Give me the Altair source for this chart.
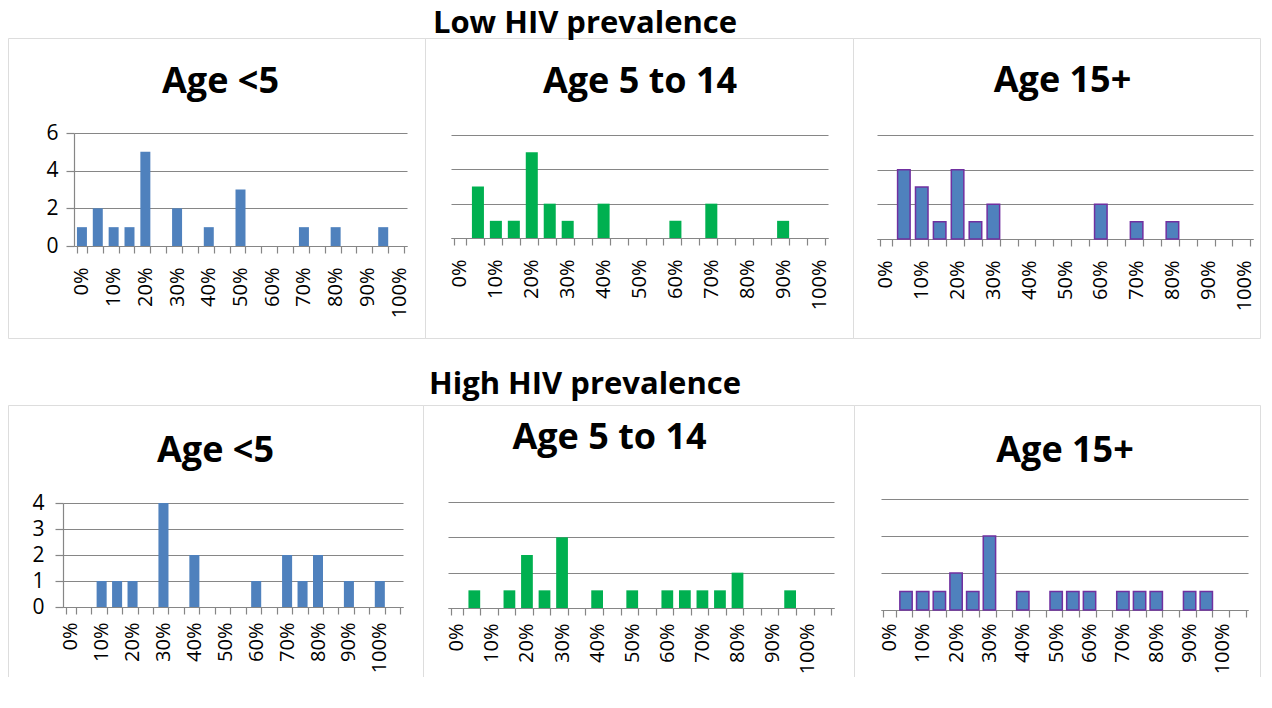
import altair as alt
import pandas as pd

# ---- data ----
pct_21 = [0, 5, 10, 15, 20, 25, 30, 35, 40, 45, 50, 55, 60, 65, 70, 75, 80, 85, 90, 95, 100]
pct_22 = [0, 5, 10, 15, 20, 25, 30, 35, 40, 45, 50, 55, 60, 65, 70, 75, 80, 85, 90, 95, 100, 105]

low_u5 = [1, 2, 1, 1, 5, 0, 2, 0, 1, 0, 3, 0, 0, 0, 1, 0, 1, 0, 0, 1, 0]
low_5_14 = [0, 3, 1, 1, 5, 2, 1, 0, 2, 0, 0, 0, 1, 0, 2, 0, 0, 0, 1, 0, 0]
low_15p = [0, 4, 3, 1, 4, 1, 2, 0, 0, 0, 0, 0, 2, 0, 1, 0, 1, 0, 0, 0, 0]
high_u5 = [0, 0, 1, 1, 1, 0, 4, 0, 2, 0, 0, 0, 1, 0, 2, 1, 2, 0, 1, 0, 1, 0]
high_5_14 = [0, 1, 0, 1, 3, 1, 4, 0, 1, 0, 1, 0, 1, 1, 1, 1, 2, 0, 0, 1, 0, 0]
high_15p = [0, 1, 1, 1, 2, 1, 4, 0, 1, 0, 1, 1, 1, 0, 1, 1, 1, 0, 1, 1, 0, 0]

row_titles = ["Low HIV prevalence", "High HIV prevalence"]
panel_titles = ["Age <5", "Age 5 to 14", "Age 15+"]
y_ticks_6 = [0, 2, 4, 6]
y_ticks_4 = [0, 1, 2, 3, 4]

BLUE = "#4F81BD"
GREEN = "#00B050"
PURPLE = "#7030A0"
GRAY = "#868686"
FONT = "Open Sans"


def panel(cats, counts, title, W, H, xr, yr, ymax, yticks, color, pad,
          stroke=None, show_y=False, title_off=-91, title_dx=0, ylab_pad=8,
          xlab_pad=14):
    df = pd.DataFrame({"pct": cats, "count": counts})
    x0 = xr[0]
    y0 = yr[0]
    mark_kw = dict(color=color)
    if stroke:
        mark_kw.update(stroke=stroke, strokeWidth=1.5)
    xaxis = alt.Axis(
        title=None, labelAngle=270,
        labelExpr="datum.value % 10 == 0 && datum.value <= 100 ? datum.value + '%' : ''",
        tickBand="extent", tickSize=7, tickColor=GRAY, domainColor=GRAY,
        tickWidth=1.2, domainWidth=1.2,
        labelPadding=xlab_pad, offset=-(H - y0), grid=False, labelOverlap=False,
        labelFontSize=20, labelColor="#000", labelFont=FONT,
    )
    if show_y:
        yaxis = alt.Axis(
            title=None, values=yticks, grid=True, gridColor=GRAY, gridWidth=1.2,
            domain=True, domainColor=GRAY, domainWidth=1.2, ticks=True,
            tickSize=8, tickColor=GRAY, tickWidth=1.2,
            labelPadding=ylab_pad, offset=-x0, labelFontSize=21,
            labelColor="#000", labelFont=FONT,
        )
    else:
        yaxis = alt.Axis(
            title=None, values=yticks, grid=True, gridColor=GRAY, gridWidth=1.2,
            domain=False, ticks=False, labels=False, offset=-x0,
        )
    return (
        alt.Chart(df)
        .transform_filter("datum.count > 0")
        .mark_bar(**mark_kw)
        .encode(
            x=alt.X("pct:O",
                    scale=alt.Scale(domain=cats, range=xr, paddingInner=pad,
                                    paddingOuter=pad / 2),
                    axis=xaxis),
            y=alt.Y("count:Q",
                    scale=alt.Scale(domain=[0, ymax], range=yr, nice=False),
                    axis=yaxis),
        )
        .properties(
            width=W, height=H,
            title=alt.TitleParams(
                text=title, font=FONT, fontSize=36, fontWeight="bold",
                anchor="middle", baseline="alphabetic", offset=title_off,
                dx=title_dx, color="#000",
            ),
        )
    )


tl = panel(pct_21, low_u5, panel_titles[0], 417, 300, [66, 399], [208, 95], 6,
           y_ticks_6, BLUE, 0.37, show_y=True, title_off=-91, title_dx=4,
           ylab_pad=8)
tm = panel(pct_21, low_5_14, panel_titles[1], 428, 300, [26, 403], [200, 97], 6,
           y_ticks_6, GREEN, 0.33, title_off=-91, title_dx=1)
tr = panel(pct_21, low_15p, panel_titles[2], 407, 300, [24, 400], [201, 97], 6,
           y_ticks_6, BLUE, 0.3, stroke=PURPLE, title_off=-90, title_dx=6)

bl = panel(pct_22, high_u5, panel_titles[0], 415, 290, [55, 395], [202, 98], 4,
           y_ticks_4, BLUE, 0.35, show_y=True, title_off=-93, title_dx=0,
           ylab_pad=11, xlab_pad=8)
bm = panel(pct_22, high_5_14, panel_titles[1], 431, 290, [25, 411], [203, 97], 6,
           y_ticks_6, GREEN, 0.33, title_off=-80, title_dx=-29, xlab_pad=8)
br = panel(pct_22, high_15p, panel_titles[2], 406, 290, [27, 394], [205, 94], 6,
           y_ticks_6, BLUE, 0.26, stroke=PURPLE, title_off=-93, title_dx=8,
           xlab_pad=6)


def row_title(text, off):
    return alt.TitleParams(text=text, font=FONT, fontSize=31, fontWeight="bold",
                           anchor="middle", baseline="alphabetic", offset=off,
                           dx=-44, color="#000")


row1 = alt.hconcat(tl, tm, tr, spacing=0, bounds="flush").properties(
    title=row_title(row_titles[0], -26))
row2 = alt.hconcat(bl, bm, br, spacing=0, bounds="flush").properties(
    title=row_title(row_titles[1], -20))

chart = (
    alt.vconcat(row1, row2, spacing=29)
    .properties(padding={"top": -1, "bottom": -19, "left": -11, "right": 0})
    .configure_view(stroke="#8c8c8c", strokeWidth=2)
    .configure(background="white")
)

chart.save("out.html", embed_options={"renderer": "svg", "actions": False})
